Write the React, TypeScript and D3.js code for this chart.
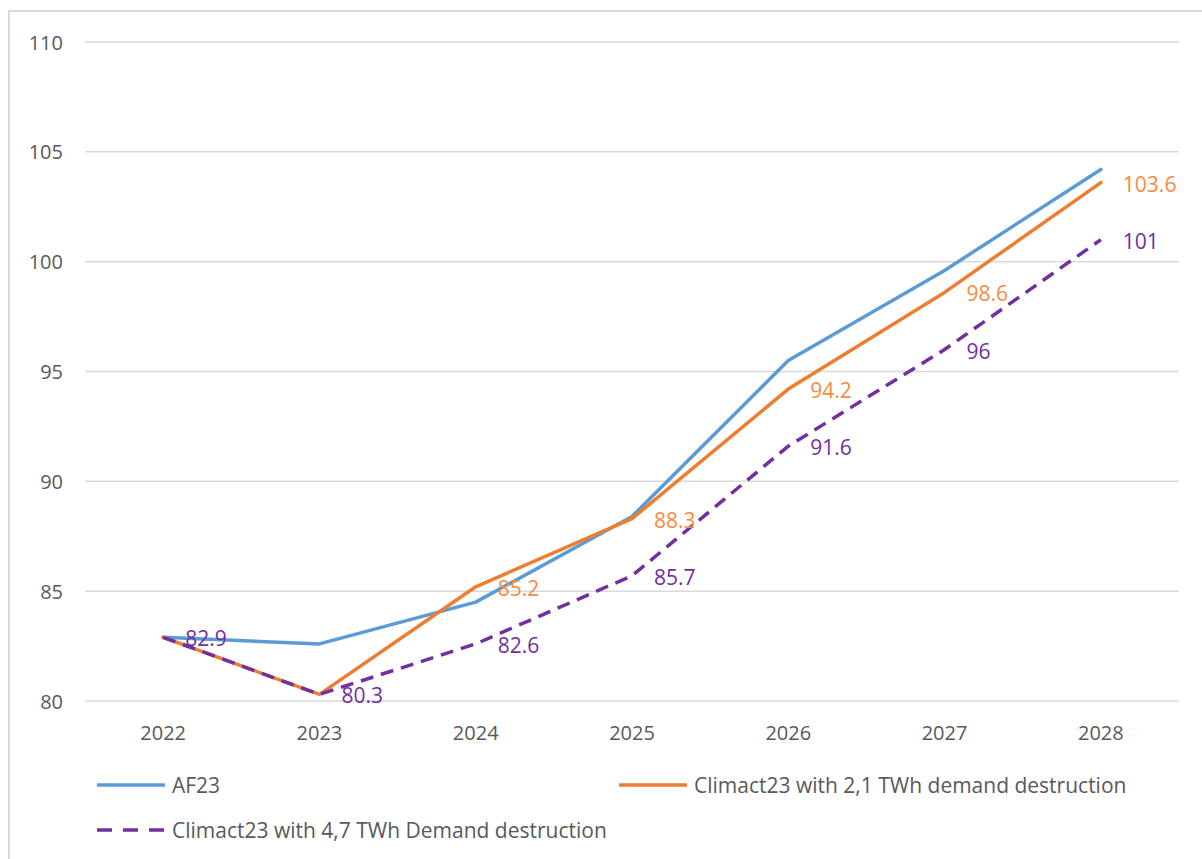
import { useEffect, useRef } from 'react'
import * as d3 from 'd3'

const YEARS = ['2022', '2023', '2024', '2025', '2026', '2027', '2028']
const AF23 = [82.9, 82.6, 84.5, 88.4, 95.5, 99.6, 104.2]
const CLIMACT_21 = [82.9, 80.3, 85.2, 88.3, 94.2, 98.6, 103.6]
const CLIMACT_47 = [82.9, 80.3, 82.6, 85.7, 91.6, 96, 101]
const Y_TICKS = [80, 85, 90, 95, 100, 105, 110]

const SERIES = [
  { key: 'af23', name: 'AF23', values: AF23, color: '#5B9BD5', labelColor: null, dash: null },
  { key: 'c21', name: 'Climact23 with 2,1 TWh demand destruction', values: CLIMACT_21, color: '#ED7D31', labelColor: '#F58B3F', dash: null },
  { key: 'c47', name: 'Climact23 with 4,7 TWh Demand destruction', values: CLIMACT_47, color: '#7030A0', labelColor: '#7030A0', dash: '13,8' },
]

const W = 1202
const H = 859
const PLOT = { left: 85, right: 1179, top: 42, bottom: 701 }
const FONT = 'Open Sans, Noto Sans, sans-serif'
const TEXT = '#595959'

export default function App() {
  const svgRef = useRef<SVGSVGElement | null>(null)

  useEffect(() => {
    if (!svgRef.current) return
    const svg = d3.select(svgRef.current)
    svg.selectAll('*').remove()

    const x = d3.scalePoint<string>().domain(YEARS).range([PLOT.left, PLOT.right]).padding(0.5)
    const y = d3.scaleLinear().domain([80, 110]).range([PLOT.bottom, PLOT.top])

    // frame
    svg.append('rect')
      .attr('x', 9).attr('y', 11).attr('width', W + 20).attr('height', H + 20)
      .attr('fill', 'white').attr('stroke', '#D9D9D9').attr('stroke-width', 2)

    // ── Grid + y labels ─────────────────────────────────────────────
    const grid = svg.append('g')
    grid.selectAll('line').data(Y_TICKS).join('line')
      .attr('x1', PLOT.left).attr('x2', PLOT.right)
      .attr('y1', (d) => y(d)).attr('y2', (d) => y(d))
      .attr('stroke', '#D9D9D9').attr('stroke-width', 1.5)
    grid.selectAll('text').data(Y_TICKS).join('text')
      .attr('x', 63).attr('y', (d) => y(d))
      .attr('text-anchor', 'end').attr('dominant-baseline', 'central')
      .attr('font-family', FONT).attr('font-size', 20).attr('fill', TEXT)
      .text((d) => d)

    // x labels
    svg.append('g').selectAll('text').data(YEARS).join('text')
      .attr('x', (d) => x(d)!).attr('y', 732)
      .attr('text-anchor', 'middle').attr('dominant-baseline', 'central')
      .attr('font-family', FONT).attr('font-size', 20).attr('fill', TEXT)
      .text((d) => d)

    // ── Lines ───────────────────────────────────────────────────────
    const line = d3.line<number>().x((_, i) => x(YEARS[i])!).y((d) => y(d))
    SERIES.forEach((s) => {
      svg.append('path')
        .datum(s.values)
        .attr('d', line)
        .attr('fill', 'none').attr('stroke', s.color).attr('stroke-width', 3.5)
        .attr('stroke-linejoin', 'round').attr('stroke-linecap', s.dash ? 'butt' : 'round')
        .attr('stroke-dasharray', s.dash)
    })

    // ── Data labels ─────────────────────────────────────────────────
    SERIES.filter((s) => s.labelColor).forEach((s) => {
      const labelled = s.values
        .map((v, i) => ({ v, i }))
        .filter((d) => !(s.key === 'c21' && d.i < 2))
      svg.append('g').selectAll('text').data(labelled).join('text')
        .attr('x', (d) => x(YEARS[d.i])! + 22)
        .attr('y', (d) => y(d.v) + 1)
        .attr('dominant-baseline', 'central')
        .attr('font-family', FONT).attr('font-size', 21).attr('fill', s.labelColor)
        .text((d) => d.v)
    })

    // ── Legend ──────────────────────────────────────────────────────
    const legendPos = [
      { x: 97, y: 785 },
      { x: 619, y: 785 },
      { x: 97, y: 830 },
    ]
    SERIES.forEach((s, i) => {
      const p = legendPos[i]
      const g = svg.append('g').attr('transform', `translate(${p.x},${p.y})`)
      g.append('line')
        .attr('x1', 0).attr('x2', 68).attr('y1', 0).attr('y2', 0)
        .attr('stroke', s.color).attr('stroke-width', 3.5)
        .attr('stroke-dasharray', s.dash ? '15,11' : null)
      g.append('text')
        .attr('x', 75).attr('y', 0).attr('dominant-baseline', 'central')
        .attr('font-family', FONT).attr('font-size', 21).attr('fill', TEXT)
        .text(s.name)
    })
  }, [])

  return (
    <div style={{ position: 'fixed', left: 0, top: 0, width: W, height: H, background: 'white' }}>
      <svg ref={svgRef} width={W} height={H} style={{ display: 'block' }} />
    </div>
  )
}
